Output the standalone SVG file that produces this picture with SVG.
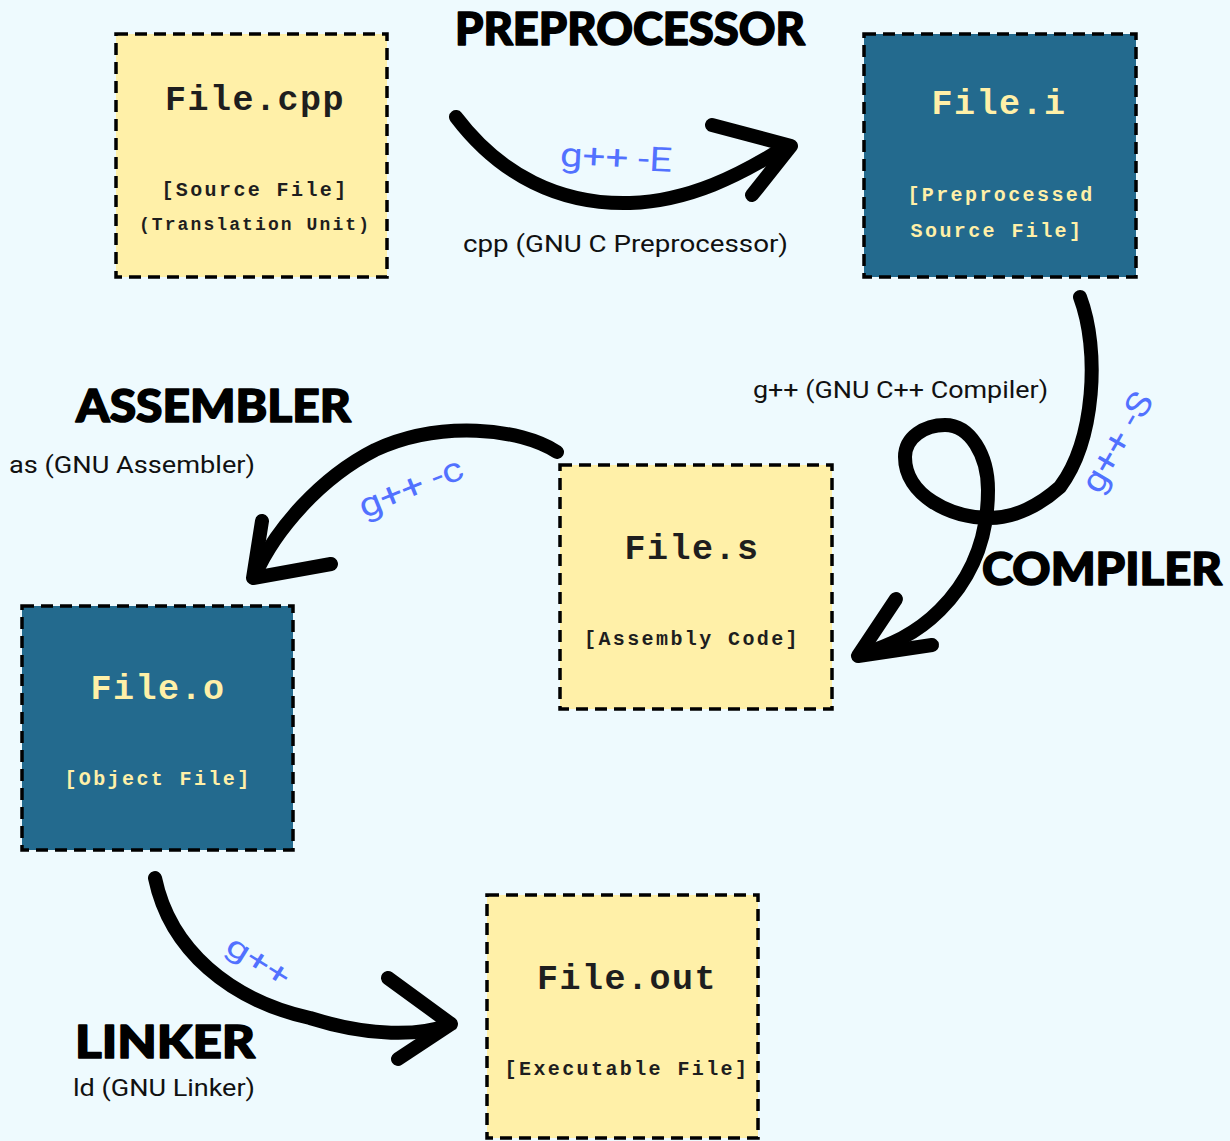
<svg xmlns="http://www.w3.org/2000/svg" width="1230" height="1141" viewBox="0 0 1230 1141">
  <style>
    .box rect { stroke: #000; stroke-width: 3.5; stroke-dasharray: 12 7; }
    .light rect { fill: #FFF0A8; }
    .dark rect { fill: #236A8E; }
    .title { font-family: "Liberation Mono", "Courier New", monospace; font-weight: bold; font-size: 35px; letter-spacing: 1.5px; text-anchor: middle; }
    .sub { font-size: 20px; letter-spacing: 2.4px; }
    .light text { fill: #1E1E1E; }
    .dark text { fill: #FFF0A8; }
    .heading { font-family: Lato, Inter, "DejaVu Sans", sans-serif; font-weight: 900; font-size: 45px; fill: #000; stroke: #000; stroke-width: 1.5; stroke-linejoin: round; }
    .tool { font-family: Roboto, "Liberation Sans", sans-serif; font-size: 24px; fill: #111; }
    .flag { font-family: Roboto, "Liberation Sans", sans-serif; font-size: 34px; fill: #5271FF; text-anchor: middle; }
    .shaft, .head { fill: none; stroke: #000; stroke-width: 14; stroke-linecap: round; stroke-linejoin: round; }
  </style>

  <rect width="1230" height="1141" fill="#EEFAFE"/>

  <!-- stage headings and tool names -->
  <g id="labels">
    <text class="heading" x="455" y="45" textLength="350" lengthAdjust="spacingAndGlyphs">PREPROCESSOR</text>
    <text class="heading" x="76" y="422" textLength="275" lengthAdjust="spacingAndGlyphs">ASSEMBLER</text>
    <text class="heading" x="982" y="585" textLength="240" lengthAdjust="spacingAndGlyphs">COMPILER</text>
    <text class="heading" x="75" y="1058" textLength="180" lengthAdjust="spacingAndGlyphs">LINKER</text>

    <text class="tool" x="463" y="252" textLength="325" lengthAdjust="spacingAndGlyphs">cpp (GNU C Preprocessor)</text>
    <text class="tool" x="753" y="398" textLength="295" lengthAdjust="spacingAndGlyphs">g++ (GNU C++ Compiler)</text>
    <text class="tool" x="9" y="473" textLength="246" lengthAdjust="spacingAndGlyphs">as (GNU Assembler)</text>
    <text class="tool" x="73" y="1096" textLength="182" lengthAdjust="spacingAndGlyphs">ld (GNU Linker)</text>
  </g>

  <!-- file nodes -->
  <g id="file-cpp" class="box light">
    <rect x="116" y="34" width="271" height="243"/>
    <text class="title" x="255" y="110">File.cpp</text>
    <text class="title sub" x="255" y="196">[Source File]</text>
    <text class="title sub" x="255" y="230" style="font-size:18px;letter-spacing:2.1px">(Translation Unit)</text>
  </g>

  <g id="file-i" class="box dark">
    <rect x="864" y="34" width="272" height="243"/>
    <text class="title" x="999" y="114">File.i</text>
    <text class="title sub" x="1001" y="201">[Preprocessed</text>
    <text class="title sub" x="997" y="237">Source File]</text>
  </g>

  <g id="file-s" class="box light">
    <rect x="560" y="465" width="272" height="244"/>
    <text class="title" x="692" y="559">File.s</text>
    <text class="title sub" x="692" y="645">[Assembly Code]</text>
  </g>

  <g id="file-o" class="box dark">
    <rect x="22" y="606" width="271" height="244"/>
    <text class="title" x="158" y="699">File.o</text>
    <text class="title sub" x="158" y="785">[Object File]</text>
  </g>

  <g id="file-out" class="box light">
    <rect x="487" y="895" width="271" height="243"/>
    <text class="title" x="627" y="989">File.out</text>
    <text class="title sub" x="627" y="1075">[Executable File]</text>
  </g>

  <!-- brush-stroke connectors -->
  <g id="connectors">
    <!-- File.cpp -> File.i -->
    <path class="shaft" d="M456,117 C500,175 560,205 630,203 C690,201 740,175 785,147"/>
    <path class="head" d="M712,125 L791,146 L752,195"/>
    <text class="flag" x="616" y="169" textLength="112" lengthAdjust="spacingAndGlyphs" transform="rotate(3 616 160)">g++ -E</text>

    <!-- File.i -> File.s (looped) -->
    <path class="shaft" d="M1080,297 C1100,350 1095,440 1060,487 C1040,505 1015,518 990,518 C950,518 905,495 905,457 C905,437 925,425 945,425 C970,425 988,455 988,490 C988,540 970,580 940,610 C915,635 890,645 860,655"/>
    <path class="head" d="M896,599 L858,656 L932,645"/>
    <text class="flag" x="1127" y="448" textLength="110" lengthAdjust="spacingAndGlyphs" transform="rotate(-60 1127 448)">g++ -S</text>

    <!-- File.s -> File.o -->
    <path class="shaft" d="M557,452 C520,428 440,420 375,450 C320,478 275,530 255,575"/>
    <path class="head" d="M262,521 L253,578 L331,564"/>
    <text class="flag" x="415" y="498" textLength="110" lengthAdjust="spacingAndGlyphs" transform="rotate(-22 415 498)">g++ -c</text>

    <!-- File.o -> File.out -->
    <path class="shaft" d="M155,878 C170,950 230,1000 310,1018 C370,1037 420,1036 448,1025"/>
    <path class="head" d="M388,978 L451,1024 L398,1059"/>
    <text class="flag" x="258" y="971" style="font-size:30px" textLength="70" lengthAdjust="spacingAndGlyphs" transform="rotate(32 258 962)">g++</text>
  </g>
</svg>
